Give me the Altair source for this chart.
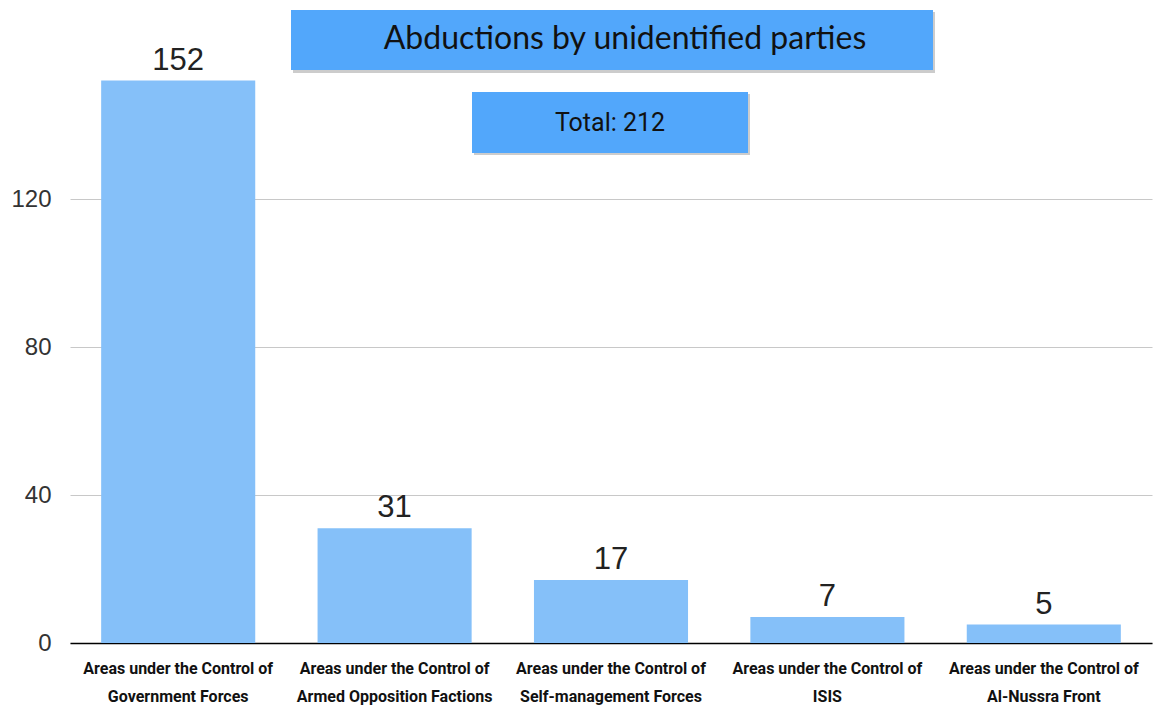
import altair as alt
import pandas as pd

categories = [
    "Areas under the Control of Government Forces",
    "Areas under the Control of Armed Opposition Factions",
    "Areas under the Control of Self-management Forces",
    "Areas under the Control of ISIS",
    "Areas under the Control of Al-Nussra Front",
]
values = [152, 31, 17, 7, 5]
y_ticks = [0, 40, 80, 120]
title_text = "Abductions by unidentified parties"
total_text = "Total: 212"

df = pd.DataFrame({"cat": categories, "val": values})

x = alt.X("cat:N", sort=None, title=None,
          scale=alt.Scale(paddingInner=0.288, paddingOuter=0.144),
          axis=alt.Axis(labelAngle=0, ticks=False, domain=True, domainColor="#000000",
                        domainWidth=1.5, labelFont="Roboto", labelFontWeight="bold",
                        labelFontSize=16, labelColor="#111111", labelPadding=17, labelLineHeight=28,
                        labelLimit=0,
                        labelExpr="['Areas under the Control of', replace(datum.label, 'Areas under the Control of ', '')]"))
y = alt.Y("val:Q", title=None,
          scale=alt.Scale(domain=[0, 160], nice=False),
          axis=alt.Axis(values=y_ticks, ticks=False, domain=False, grid=True, gridColor="#c8c8c8",
                        labelFont="Liberation Sans", labelFontSize=24, labelColor="#333333",
                        labelPadding=19))

base = alt.Chart(df)
bars = base.mark_bar(color="#85C0F9").encode(x=x, y=y)
labels = base.mark_text(dy=-20, fontSize=31, font="Liberation Sans", color="#222222").encode(
    x=alt.X("cat:N", sort=None), y="val:Q", text="val:Q")

tdf = pd.DataFrame({"t": [title_text]})
shadow1 = alt.Chart(tdf).mark_rect(color="#999999", opacity=0.5).encode(
    x=alt.value(223), x2=alt.value(865), y=alt.value(-39), y2=alt.value(22))
box1 = alt.Chart(tdf).mark_rect(color="#52A7FB").encode(
    x=alt.value(221), x2=alt.value(863), y=alt.value(-41), y2=alt.value(19))
text1 = alt.Chart(tdf).mark_text(fontSize=32, font="Lato", color="#111111").encode(
    x=alt.value(555), y=alt.value(-12), text="t:N")

tdf2 = pd.DataFrame({"t": [total_text]})
shadow2 = alt.Chart(tdf2).mark_rect(color="#999999", opacity=0.5).encode(
    x=alt.value(404), x2=alt.value(680), y=alt.value(43), y2=alt.value(104))
box2 = alt.Chart(tdf2).mark_rect(color="#52A7FB").encode(
    x=alt.value(402), x2=alt.value(678), y=alt.value(41), y2=alt.value(102))
text2 = alt.Chart(tdf2).mark_text(fontSize=25, font="Roboto", color="#111111").encode(
    x=alt.value(540), y=alt.value(72), text="t:N")

chart = alt.layer(bars, labels, shadow1, box1, text1, shadow2, box2, text2).properties(
    width=1082, height=592,
    padding={"left": 70, "top": 51, "right": 2, "bottom": 67},
    autosize=alt.AutoSizeParams(type="none"),
    background="white",
).configure_view(strokeWidth=0, stroke=None)

chart.save("out.html", embed_options={"renderer": "svg", "actions": False})
